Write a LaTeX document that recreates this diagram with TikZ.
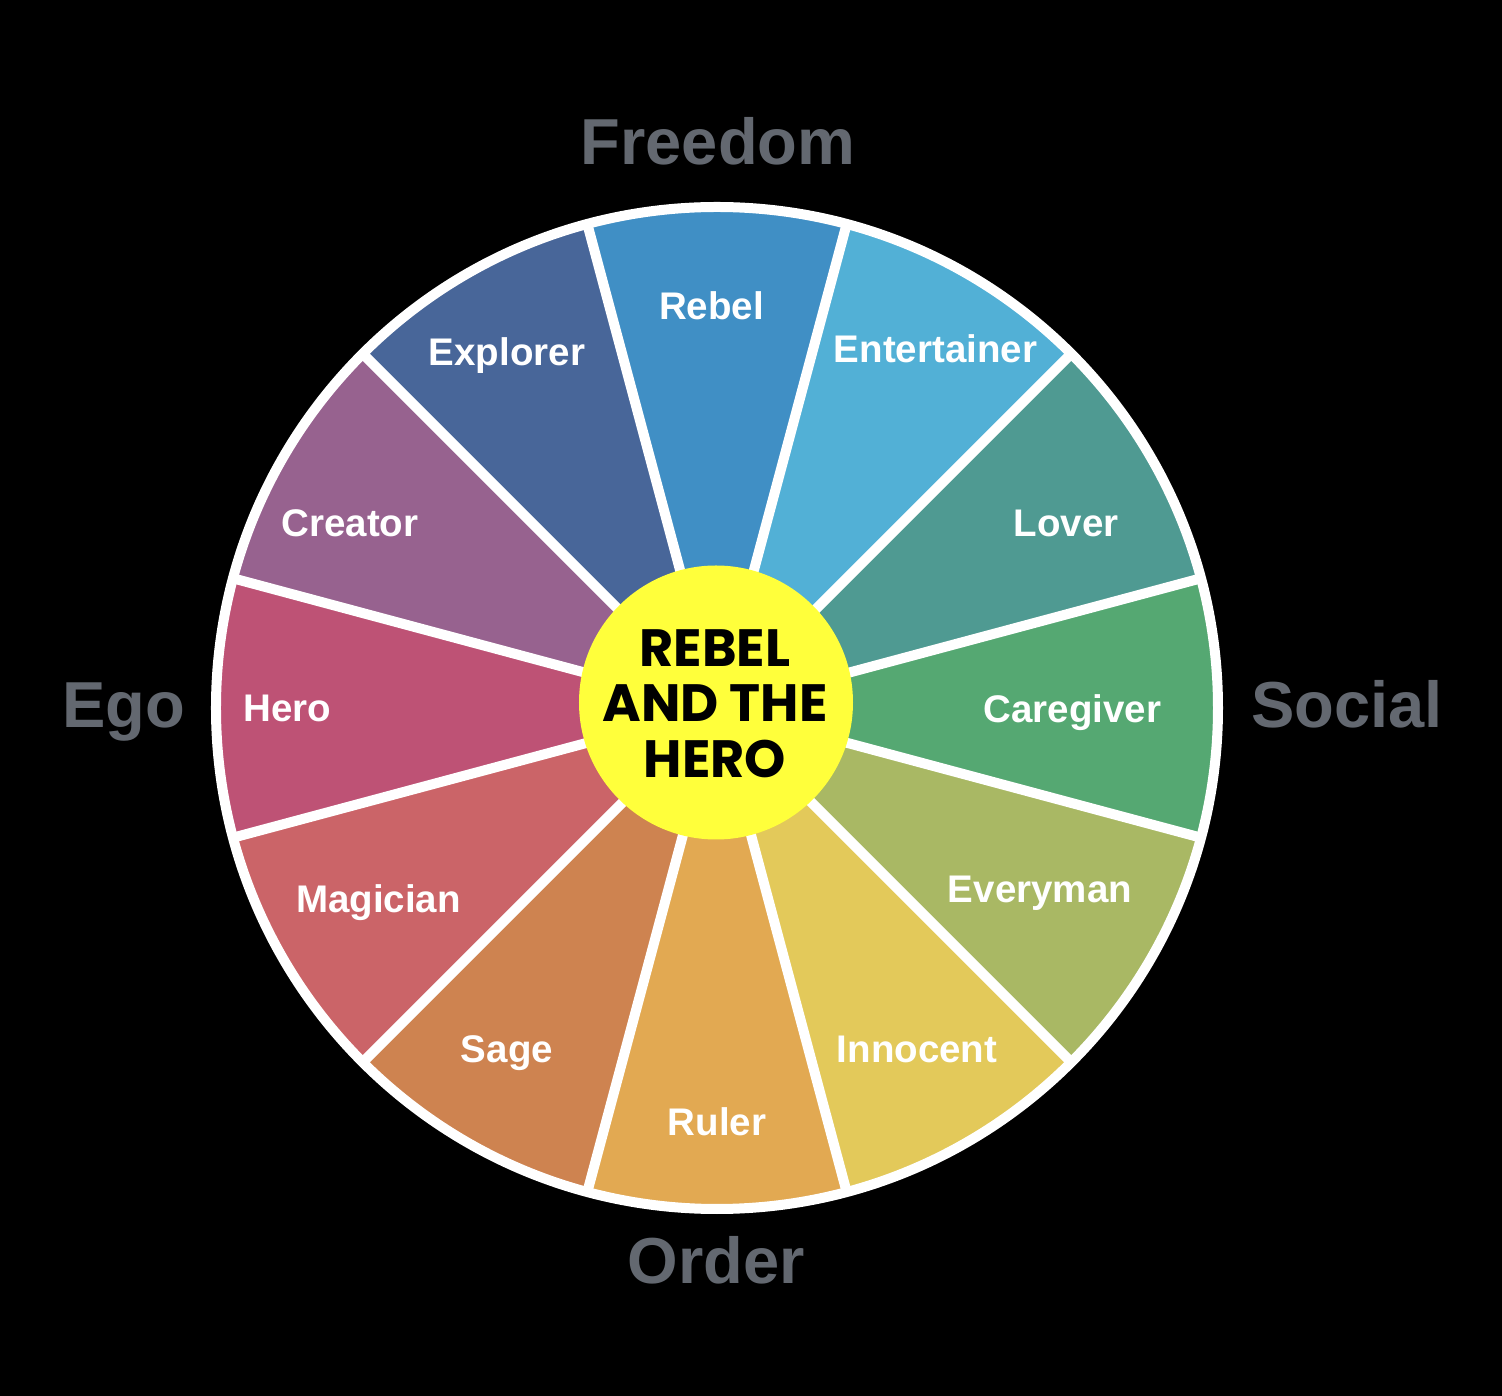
\documentclass[tikz,border=0pt]{standalone}
\usepackage{fontspec}
\setmainfont{Liberation Sans}
\newfontfamily\hubfont{Poppins}
\definecolor{wrebel}{RGB}{64,143,197}
\definecolor{wentertainer}{RGB}{82,176,214}
\definecolor{wlover}{RGB}{79,154,146}
\definecolor{wcaregiver}{RGB}{85,168,114}
\definecolor{weveryman}{RGB}{169,184,100}
\definecolor{winnocent}{RGB}{227,201,90}
\definecolor{wruler}{RGB}{226,169,82}
\definecolor{wsage}{RGB}{206,131,80}
\definecolor{wmagician}{RGB}{203,100,104}
\definecolor{whero}{RGB}{190,82,117}
\definecolor{wcreator}{RGB}{151,98,143}
\definecolor{wexplorer}{RGB}{72,102,153}
\definecolor{axisgray}{RGB}{99,104,112}
\definecolor{hubyellow}{RGB}{255,255,59}
\tikzset{wheel/.style={x=1pt,y=1pt},
  seglabel/.style={text=white,inner sep=0pt,anchor=base,font=\fontsize{38.5}{42}\selectfont\bfseries},
  axislabel/.style={text=axisgray,inner sep=0pt,anchor=base,font=\fontsize{65}{70}\selectfont\bfseries},
  hubline/.style={text=black,inner sep=0pt,anchor=base,font=\hubfont\bfseries\fontsize{52.5}{56}\selectfont}}

\begin{document}
\begin{tikzpicture}[wheel]
    \fill[black] (-717,-688) rectangle (785,708);
    \useasboundingbox (-717,-688) rectangle (785,708);
    % twelve wedges, centred on 90, 60, ... degrees
    \foreach \a/\c in {90/wrebel,60/wentertainer,30/wlover,0/wcaregiver,-30/weveryman,-60/winnocent,
                       -90/wruler,-120/wsage,-150/wmagician,180/whero,150/wcreator,120/wexplorer}
        \fill[\c] (0,0) -- ({\a-15}:501) arc[start angle={\a-15},end angle={\a+15},radius=501] -- cycle;
    \foreach \a in {15,45,...,345} \draw[white,line width=10pt] (0,0) -- (\a:501);
    \draw[white,line width=10pt] (0,0) circle[radius=501];
    \node[circle,fill=hubyellow,minimum size=274pt,inner sep=0pt] (hub) at (-1,5.5) {};
    \node[hubline] (hubtop) at (-2,41) {REBEL};
    \node[hubline] (hubmid) at (-2,-14) {AND THE};
    \node[hubline] (hubbot) at (-2,-70) {HERO};
    % archetype names
    \foreach \n/\x/\y in {Rebel/-5.5/388,Entertainer/218.5/345,Lover/349/171,Caregiver/355.5/-15,
                          Everyman/323/-195,Innocent/200/-355,Ruler/0/-428,Sage/-210/-355,
                          Magician/-338.5/-205,Hero/-429.5/-14,Creator/-367/171,Explorer/-210/342}
        \node[seglabel] (\n) at (\x,\y) {\n};
    \node[axislabel] (freedom) at (1,543) {Freedom};
    \node[axislabel] (social) at (630,-20) {Social};
    \node[axislabel] (order) at (-1,-575) {Order};
    \node[axislabel] (ego) at (-593,-20) {Ego};
\end{tikzpicture}
\end{document}
